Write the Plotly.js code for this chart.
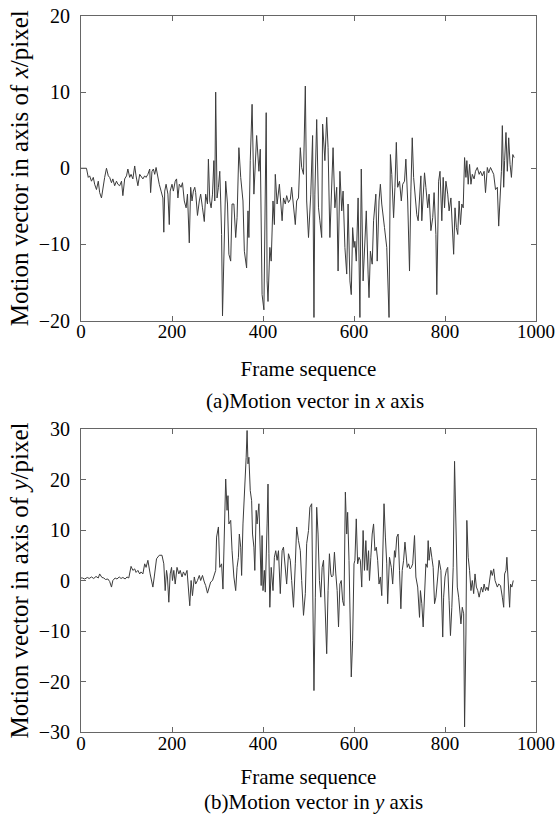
<!DOCTYPE html>
<html>
<head>
<meta charset="utf-8">
<script src="https://cdn.plot.ly/plotly-3.0.1.min.js"></script>
<style>html,body{margin:0;padding:0;background:#fff;}#chart{width:556px;height:814px;}</style>
</head>
<body>
<div id="chart"></div>
<script>
// Frame sequence (x) and motion vector in x axis (pixel)
const framesX = [
  0,3,12,16,19,23,27,30,34,38,
  41,45,49,52,56,60,63,67,70,74,
  78,81,85,89,92,96,100,103,107,110,
  114,118,121,125,129,132,136,140,143,147,
  151,153,156,159,162,165,169,172,176,180,
  182,184,187,191,194,196,200,203,207,210,
  213,216,220,223,227,231,234,238,241,244,
  247,250,252,256,260,263,267,271,274,278,
  280,283,286,289,292,294,296,299,302,305,
  307,309,311,314,318,322,325,329,332,336,
  340,343,347,351,356,359,364,367,369,372,
  376,380,386,391,394,398,402,407,409,411,
  415,418,422,425,427,431,436,442,445,449,
  452,456,460,463,467,471,474,478,482,485,
  489,493,496,500,505,509,512,514,518,522,
  525,529,531,536,540,543,547,551,554,558,
  562,565,569,573,576,580,584,587,591,594,
  597,600,602,605,609,613,616,620,624,627,
  631,633,636,640,643,648,651,655,658,661,
  667,672,677,680,683,687,690,693,696,700,
  704,707,711,714,718,722,725,728,731,735,
  738,741,744,747,749,752,755,758,762,765,
  769,773,776,780,782,786,789,793,796,799,
  802,806,809,813,816,819,822,825,828,831,
  834,837,840,843,846,848,851,854,857,860,
  864,867,871,875,878,882,886,889,893,896,
  900,904,907,911,915,918,921,924,926,929,
  931,934,937,940,943,946,949,952
];
const motionX = [
  0,0,0,-1.2,-1.0,-1.7,-1.2,-2.1,-2.8,-1.7,
  -3.2,-3.9,-2.1,-1.2,0,-1.0,-1.2,-1.9,-1.4,-2.3,
  -1.7,-2.1,-2.3,-1.7,-3.6,-1.4,-1.0,-0.1,-1.2,-0.8,
  -1.4,0.3,-1.0,-2.3,-0.8,-1.0,-1.4,-1.0,-1.2,-0.8,
  -0.1,-3.2,-0.4,-0.1,-0.8,0.1,-1.4,-2.1,-3.0,-3.9,
  -8.4,-3.0,-2.1,-3.4,-7.4,-3.0,-2.1,-3.0,-1.7,-1.4,
  -3.9,-2.1,-2.5,-1.9,-4.3,-5.2,-3.4,-9.8,-2.5,-4.3,
  -3.0,-2.5,-3.2,-6.2,-4.3,-3.4,-5.2,-7.0,-3.4,-4.7,
  1.2,-4.3,-5.2,-3.4,1.0,-4.3,10.0,-3.9,-2.5,-0.4,
  -4.3,-8.7,-19.4,-9.6,-1.7,-4.7,-11.3,-12.2,-4.7,-4.7,
  -9.1,-6.5,2.7,-1.2,-4.3,-10.9,-13.1,-5.6,-9.1,1.0,
  8.4,-3.4,4.3,-0.4,2.5,-16.6,-18.6,7.3,-14.8,-17.5,
  -10.4,-12.2,-4.3,-7.4,-0.8,-4.7,-2.1,-6.9,-3.9,-4.7,
  -3.6,-4.5,-4.1,-2.5,-5.2,-7.4,-4.3,-3.9,2.7,0.1,
  -0.8,10.8,-4.3,-9.1,-3.4,4.3,-19.6,-3.4,6.4,-5.2,
  -6.9,-9.1,5.8,1.0,6.7,2.7,-9.1,-1.2,2.7,-5.2,
  -2.5,-13.5,-0.4,-5.6,-3.0,-10.4,-13.9,-4.7,-14.8,-16.6,
  -7.8,-10.4,-9.6,-12.2,-3.9,-19.6,-0.1,-14.8,-9.6,-5.6,
  -13.9,-17.0,-10.9,-12.6,-6.9,-3.4,-12.2,-4.3,-2.1,-4.7,
  -7.8,-10.4,-19.6,1.8,-0.8,-6.5,-2.5,3.4,-2.5,-1.7,
  -4.3,-2.1,-1.7,1.2,-4.3,-13.5,-3.0,4.0,-1.2,-4.3,
  -6.1,-6.9,-4.3,-1.0,-6.9,-3.4,-0.6,-2.5,-5.2,-3.4,
  -8.2,-6.5,-3.2,-8.7,-16.6,-1.7,-0.4,-6.9,-1.2,-5.2,
  -1.7,-3.4,-5.6,-3.9,-6.9,-11.3,-5.2,-7.8,-8.7,-4.3,
  -7.4,-4.7,-5.2,1.4,-1.2,1.0,-2.1,0.5,-2.1,-0.8,
  -1.4,-0.4,0.1,-0.8,-0.4,-1.0,-0.4,-3.2,0.1,-0.6,
  0.1,-0.4,-0.8,-2.8,-2.5,-7.6,-2.8,-0.4,5.6,-2.5,
  1.0,4.7,-0.4,4.0,0.5,-1.2,1.8,1.4
];
// Frame sequence (x) and motion vector in y axis (pixel)
const framesY = [
  0,3,8,14,18,23,28,33,38,41,
  46,50,54,59,63,67,70,75,79,84,
  88,92,97,101,105,110,114,118,121,125,
  129,132,136,140,143,147,152,158,161,166,
  172,178,182,185,188,190,193,196,199,201,
  204,207,211,215,218,222,225,229,233,236,
  239,242,245,249,252,256,260,263,267,271,
  274,278,282,285,289,292,296,298,302,305,
  309,312,315,318,321,323,325,329,332,336,
  340,343,346,348,351,353,356,360,363,365,
  367,369,372,375,377,380,382,385,387,391,
  393,396,398,400,403,405,409,411,413,415,
  418,422,425,428,431,434,438,442,445,449,
  452,456,460,463,467,471,474,478,482,485,
  489,493,496,500,503,507,509,512,515,518,
  521,524,527,530,533,536,540,543,546,549,
  551,554,557,560,563,566,569,572,575,578,
  581,584,586,589,592,594,597,600,602,605,
  608,611,614,617,620,623,626,629,632,634,
  637,640,643,646,649,652,655,658,661,666,
  669,672,674,678,682,685,689,691,694,697,
  700,703,706,709,712,714,717,720,723,726,
  729,733,736,740,744,746,749,752,755,758,
  761,763,765,768,771,774,777,780,784,787,
  791,795,797,800,803,806,809,812,815,818,
  821,824,827,830,832,835,838,841,843,846,
  848,851,854,857,860,863,866,869,872,875,
  878,880,883,886,889,892,895,898,901,904,
  907,910,912,915,918,922,926,929,931,934,
  936,939,942,944,947,950
];
const motionY = [
  0.5,0.5,0.3,0.6,0.4,0.7,0.4,0.8,0.5,1.3,
  0.6,0.5,0.2,0.3,-0.2,-1.3,0.0,0.5,0.3,0.7,
  0.4,0.6,0.3,0.7,0.5,2.8,2.0,2.3,1.6,2.0,
  1.3,1.7,1.3,3.3,2.6,4.0,1.3,-1.3,0.7,4.3,
  5.0,5.0,3.3,-2.0,2.0,0.7,-4.3,1.3,2.6,0.0,
  2.0,-0.7,2.6,1.3,2.0,0.7,1.7,1.0,2.0,-2.0,
  -5.0,0.0,-3.0,0.7,-0.7,0.0,1.0,0.0,1.0,-0.3,
  -1.0,-2.5,-1.0,-0.3,0.0,0.7,2.0,8.6,10.6,2.6,
  3.3,-1.7,10.6,20.1,13.9,16.8,11.2,11.9,5.9,0.7,
  -2.0,2.6,4.6,9.2,6.6,1.0,11.2,17.8,24.4,29.7,
  23.1,24.4,17.8,15.8,9.2,6.6,2.0,13.9,11.2,15.2,
  5.9,-1.0,8.9,-2.0,2.0,-2.3,11.2,19.1,5.3,-5.3,
  2.6,-2.0,4.6,5.9,4.0,5.9,-2.6,5.9,6.6,2.6,
  -0.7,5.3,4.0,0.0,-5.3,3.3,10.6,7.9,5.9,0.0,
  -6.9,-2.6,7.3,9.9,14.5,15.2,0.7,-21.8,-3.3,14.5,
  9.2,0.0,-3.3,2.6,4.0,-3.3,-14.5,-2.0,5.3,1.3,
  0.7,1.0,5.6,1.3,-2.0,-9.2,-0.7,0.0,-4.0,-5.0,
  17.5,9.2,13.5,4.0,-7.3,-19.1,-11.9,3.3,4.0,12.2,
  3.3,4.6,4.0,-1.3,9.9,2.0,7.9,2.0,5.9,0.0,
  4.6,9.2,11.2,5.9,6.6,4.0,-0.7,0.7,-3.0,15.2,
  8.6,3.3,-4.6,4.6,2.6,-0.7,5.9,4.6,8.6,9.2,
  2.0,-5.6,2.0,4.0,7.6,5.9,2.6,3.3,2.3,2.6,
  3.3,8.9,0.7,-1.3,-7.3,-2.0,-4.6,-9.2,-2.0,3.3,
  2.6,7.9,4.0,6.6,4.6,2.6,-4.6,-3.3,0.7,4.0,
  2.0,-11.2,-3.3,0.7,2.0,2.6,-4.0,-10.9,-5.3,2.6,
  23.6,11.2,-1.3,-3.3,-5.3,-8.6,-5.3,-6.6,-29.0,-10.6,
  11.9,4.6,2.0,-2.0,0.0,-2.6,1.3,-1.3,-2.0,-3.3,
  -2.0,-1.3,-2.3,-0.7,-2.0,-1.3,-2.0,0.0,2.0,1.0,
  2.3,0.0,-0.7,-1.3,-0.7,-1.0,-3.3,-5.3,1.3,2.0,
  4.6,0.0,-5.3,-0.7,-1.3,0.0
];
const xTicks = [0,200,400,600,800,1000];
const yTicksTop = [-20,-10,0,10,20];
const yTicksBottom = [-30,-20,-10,0,10,20,30];

const lineStyle = {color:'#3c3c3c', width:1};
const traces = [
  {type:'scatter', mode:'lines', x:framesX, y:motionX, xaxis:'x', yaxis:'y', line:lineStyle, hoverinfo:'skip'},
  {type:'scatter', mode:'lines', x:framesY, y:motionY, xaxis:'x2', yaxis:'y2', line:lineStyle, hoverinfo:'skip'}
];

const fontFam = 'Liberation Serif, Times New Roman, serif';
function xAxis(anchor, standoff){
  return {
    domain:[81/556, 536/556], range:[0,1000], tickvals:xTicks, anchor:anchor,
    ticks:'inside', ticklen:5, tickcolor:'#666', tickwidth:1,
    showline:true, linecolor:'#666', linewidth:1, mirror:'ticks',
    showgrid:false, zeroline:false, automargin:false,
    ticklabeloverflow:'allow',
    tickfont:{family:fontFam, size:19, color:'#000'},
    ticklabelstandoff:-6,
    title:{text:'Frame sequence', font:{family:fontFam, size:21, color:'#000'}, standoff:standoff}
  };
}
function yAxis(anchor, dom, rng, tv, title){
  return {
    domain:dom, range:rng, tickvals:tv, anchor:anchor,
    ticks:'inside', ticklen:5, tickcolor:'#666', tickwidth:1,
    showline:true, linecolor:'#666', linewidth:1, mirror:'ticks',
    showgrid:false, zeroline:false, automargin:false,
    ticklabeloverflow:'allow',
    tickfont:{family:fontFam, size:20, color:'#000'},
    ticklabelstandoff:6,
    title:{text:title, font:{family:fontFam, size:25, color:'#000'}, standoff:2}
  };
}
const layout = {
  width:556, height:814,
  margin:{l:0, r:0, t:0, b:0},
  paper_bgcolor:'#fff', plot_bgcolor:'#fff',
  showlegend:false,
  font:{family:fontFam, size:20, color:'#000'},
  xaxis:xAxis('y', 20),
  yaxis:yAxis('x', [1-320.5/814, 1-16/814], [-20,20], yTicksTop, 'Motion vector in axis of <i>x</i>/pixel'),
  xaxis2:xAxis('y2', 16),
  yaxis2:yAxis('x2', [1-732/814, 1-429/814], [-30,30], yTicksBottom, 'Motion vector in axis of <i>y</i>/pixel'),
  annotations:[
    {text:'(a)Motion vector in <i>x</i> axis', xref:'paper', yref:'paper', x:315/556, y:1-401/814, xanchor:'center', yanchor:'middle', showarrow:false, font:{family:fontFam, size:21, color:'#000'}},
    {text:'(b)Motion vector in <i>y</i> axis', xref:'paper', yref:'paper', x:313/556, y:1-802/814, xanchor:'center', yanchor:'middle', showarrow:false, font:{family:fontFam, size:21, color:'#000'}}
  ]
};
Plotly.newPlot('chart', traces, layout, {displayModeBar:false, staticPlot:true});
</script>
</body>
</html>
